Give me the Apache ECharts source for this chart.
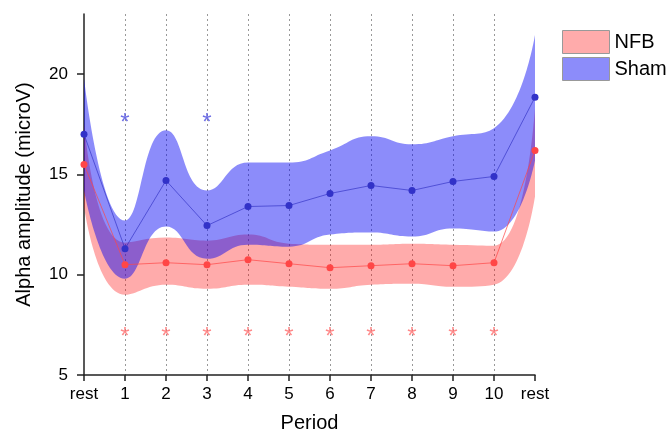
<!DOCTYPE html>
<html>
<head>
<meta charset="utf-8">
<script src="https://cdn.jsdelivr.net/npm/echarts@6/dist/echarts.min.js"></script>
<style>
html,body{margin:0;padding:0;background:#fff;}
#chart{width:666px;height:438px;}
</style>
</head>
<body>
<div id="chart"></div>
<script>
// periods along the x axis
const periods=['rest','1','2','3','4','5','6','7','8','9','10','rest'];
const yTicks=[5,10,15,20];

// NFB group
const nfbMean =[15.5,10.5,10.6,10.5,10.75,10.55,10.35,10.45,10.55,10.45,10.6,16.2];
const nfbUpper=[17.6,11.6,11.85,11.7,12.0,11.55,11.5,11.5,11.55,11.5,11.45,18.3];
const nfbLower=[13.4,9.0,9.5,9.3,9.5,9.4,9.3,9.5,9.55,9.4,9.5,13.9];

// Sham group
const shamMean =[17.0,11.3,14.7,12.45,13.4,13.45,14.05,14.45,14.2,14.65,14.9,18.85];
const shamUpper=[19.8,12.7,17.2,14.2,15.6,15.6,16.2,16.9,16.5,16.9,17.3,21.95];
const shamLower=[14.2,9.8,12.4,10.8,11.5,11.4,12.0,12.1,11.9,12.3,12.15,15.7];

// significance markers
const shamStarPeriods=['1','3'];
const shamStarLevel=17.9;
const nfbStarPeriods=['1','2','3','4','5','6','7','8','9','10'];
const nfbStarLevel=7.25;

const FONT='"Liberation Sans", Arial, sans-serif';
const nfbFill='rgba(255,0,0,0.33)';
const shamFill='rgba(0,0,245,0.45)';

function band(name,stack,lower,upper,fill){
    return [
        {name:name+' low',type:'line',stack:stack,data:lower,smooth:0.5,symbol:'none',
         lineStyle:{opacity:0},silent:true},
        {name:name,type:'line',stack:stack,data:upper.map((u,i)=>+(u-lower[i]).toFixed(3)),smooth:0.5,symbol:'none',
         lineStyle:{opacity:0},itemStyle:{color:fill},areaStyle:{color:fill,opacity:1},silent:true}
    ];
}

function stars(list,level,color){
    return {type:'scatter',data:list.map(p=>[p,level]),symbolSize:1,itemStyle:{color:'rgba(0,0,0,0)'},
        label:{show:true,formatter:'*',position:'inside',fontSize:24,color:color,fontFamily:FONT,offset:[0,7]},z:5};
}

const chart=echarts.init(document.getElementById('chart'));
chart.setOption({
    animation:false,
    backgroundColor:'#fff',
    grid:{left:84,right:131,top:14,bottom:59},
    legend:{
        orient:'vertical',left:557,top:25,itemWidth:47,itemHeight:23,itemGap:3,
        textStyle:{fontSize:20,color:'#000',fontFamily:FONT},
        data:[
            {name:'NFB',icon:'rect',itemStyle:{color:nfbFill,borderColor:'#999',borderWidth:1}},
            {name:'Sham',icon:'rect',itemStyle:{color:shamFill,borderColor:'#999',borderWidth:1}}
        ]
    },
    xAxis:{
        type:'category',data:periods,boundaryGap:false,
        name:'Period',nameLocation:'middle',nameGap:38,
        nameTextStyle:{fontSize:20,color:'#000',fontFamily:FONT},
        axisLine:{lineStyle:{color:'#222',width:1.5}},
        axisTick:{show:true,length:6,lineStyle:{color:'#222',width:1.5}},
        axisLabel:{fontSize:17,color:'#000',margin:11,fontFamily:FONT,interval:0},
        splitLine:{show:true,interval:(i)=>i>0&&i<periods.length-1,lineStyle:{color:'#999',type:[2,3],width:1}}
    },
    yAxis:{
        type:'value',min:5,max:23,
        name:'Alpha amplitude (microV)',nameLocation:'middle',nameGap:50,
        nameTextStyle:{fontSize:20,color:'#000',fontFamily:FONT},
        axisLine:{show:true,lineStyle:{color:'#222',width:1.5}},
        axisTick:{show:true,length:7,customValues:yTicks,lineStyle:{color:'#222',width:1.5}},
        axisLabel:{fontSize:17,color:'#000',margin:16,fontFamily:FONT,customValues:yTicks},
        splitLine:{show:false}
    },
    series:[
        ...band('NFB','nfb',nfbLower,nfbUpper,nfbFill),
        {name:'NFB mean',type:'line',data:nfbMean,symbol:'circle',symbolSize:7,
         lineStyle:{color:'rgba(255,70,70,0.7)',width:1},itemStyle:{color:'#ff4646'}},
        ...band('Sham','sham',shamLower,shamUpper,shamFill),
        {name:'Sham mean',type:'line',data:shamMean,symbol:'circle',symbolSize:7,
         lineStyle:{color:'rgba(40,40,190,0.6)',width:1},itemStyle:{color:'#3232c8'},z:4},
        stars(shamStarPeriods,shamStarLevel,'#4a4ae0'),
        stars(nfbStarPeriods,nfbStarLevel,'#ff6a6a')
    ]
});
</script>
</body>
</html>
